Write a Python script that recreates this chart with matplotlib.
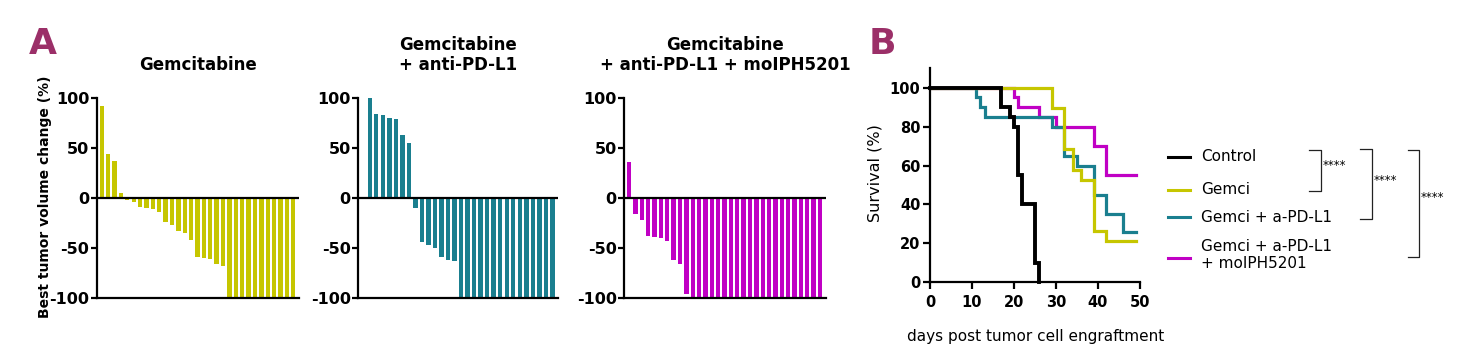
import matplotlib
matplotlib.use("Agg")
import matplotlib.pyplot as plt
from matplotlib.lines import Line2D
import numpy as np

# ---------------- data ----------------
gem_vals = [92, 44, 37, 5, -2, -4, -9, -10, -11, -14, -24, -27, -33, -35, -42, -59,
            -60, -61, -66, -68] + [-100] * 11
gem_pd_vals = [1, 100, 84, 83, 80, 79, 63, 55, -10, -44, -47, -50, -59, -62, -63] + [-100] * 15
gem_pd_mo_vals = [36, -16, -22, -38, -39, -40, -43, -62, -66, -96] + [-100] * 21

panel_titles = ["Gemcitabine", "Gemcitabine\n+ anti-PD-L1", "Gemcitabine\n+ anti-PD-L1 + moIPH5201"]
wf_yticks = [-100, -50, 0, 50, 100]

ctrl_t = [0, 17, 19, 20, 21, 22, 25, 26]
ctrl_s = [100, 90, 85, 80, 55, 40, 10, 0]
gemci_t = [0, 29, 32, 34, 36, 39, 42, 49]
gemci_s = [100, 89.5, 68.4, 57.9, 52.6, 26.3, 21.1, 21.1]
gpd_t = [0, 11, 12, 13, 29, 32, 35, 39, 42, 46, 49]
gpd_s = [100, 95, 90, 85, 80, 65, 60, 45, 35, 26, 26]
gpdmo_t = [0, 20, 21, 26, 30, 39, 42, 49]
gpdmo_s = [100, 95, 90, 85, 80, 70, 55, 55]

legend_labels = ["Control", "Gemci", "Gemci + a-PD-L1", "Gemci + a-PD-L1\n+ moIPH5201"]
sig_labels = ["****", "****", "****"]

# ---------------- style ----------------
YEL = "#c6c600"
TEAL = "#1a7f8f"
MAG = "#c000c4"
LETTER = "#9b2f68"
FONT = "DejaVu Sans"
plt.rcParams["font.family"] = [FONT]

W, H = 1469, 362
fig = plt.figure(figsize=(W / 100, H / 100), dpi=100)


def fx(x):
    return x / W


def fy(y):
    return 1 - y / H


def add_axes_px(x0, x1, ytop, ybot):
    return fig.add_axes([fx(x0), fy(ybot), fx(x1) - fx(x0), (ybot - ytop) / H])


# ---------------- waterfall panels ----------------
wf_specs = [
    (gem_vals, YEL, 97, 299),
    (gem_pd_vals, TEAL, 358.3, 558.3),
    (gem_pd_mo_vals, MAG, 624.3, 825.7),
]
for i, (vals, col, x0, x1) in enumerate(wf_specs):
    ax = add_axes_px(x0, x1, 97.7, 297.7)
    n = len(vals)
    ax.bar(np.arange(n), vals, width=0.68, color=col, zorder=1)
    ax.axhline(0, color="black", lw=1.6, zorder=3)
    ax.set_xlim(-0.75, n - 0.1)
    ax.set_ylim(-100, 100)
    for s in ["top", "right"]:
        ax.spines[s].set_visible(False)
    for s in ["left", "bottom"]:
        ax.spines[s].set_linewidth(1.6)
        ax.spines[s].set_zorder(4)
    ax.set_xticks([])
    ax.set_yticks(wf_yticks)
    ax.set_yticklabels([str(v) for v in wf_yticks], fontsize=11.5, fontweight="bold")
    ax.tick_params(axis="y", length=4.5, width=1.6, pad=1.0)
    ax.patch.set_alpha(0)
    cx = (x0 + x1) / 2
    if i == 0:
        fig.text(fx(cx), fy(65), panel_titles[i], ha="center", va="center",
                 fontsize=12, fontweight="bold")
    else:
        fig.text(fx(cx), fy(55), panel_titles[i], ha="center", va="center",
                 fontsize=12, fontweight="bold", linespacing=1.15, multialignment="center")

fig.text(fx(45), fy(197), "Best tumor volume change (%)", rotation=90, ha="center",
         va="center", fontsize=10, fontweight="bold")

# panel letters
fig.text(fx(43), fy(44), "A", ha="center", va="center", fontsize=26,
         fontweight="bold", color=LETTER)
fig.text(fx(882), fy(44), "B", ha="center", va="center", fontsize=26,
         fontweight="bold", color=LETTER)

# ---------------- survival ----------------
axs = add_axes_px(930, 1140, 68.3, 282.3)
curves = [
    (gpdmo_t, gpdmo_s, MAG, 2.3),
    (gpd_t, gpd_s, TEAL, 2.3),
    (gemci_t, gemci_s, YEL, 2.3),
    (ctrl_t, ctrl_s, "black", 2.8),
]
for t, s, col, lw in curves:
    axs.step(t, s, where="post", color=col, lw=lw, clip_on=False,
             solid_joinstyle="miter")
axs.set_xlim(0, 50)
axs.set_ylim(0, 110)
for s in ["top", "right"]:
    axs.spines[s].set_visible(False)
for s in ["left", "bottom"]:
    axs.spines[s].set_linewidth(1.6)
axs.set_xticks([0, 10, 20, 30, 40, 50])
axs.set_yticks([0, 20, 40, 60, 80, 100])
axs.set_xticklabels(["0", "10", "20", "30", "40", "50"], fontsize=10.5, fontweight="bold")
axs.set_yticklabels(["0", "20", "40", "60", "80", "100"], fontsize=10.5, fontweight="bold")
axs.tick_params(axis="x", length=5, width=1.6, pad=4)
axs.tick_params(axis="y", length=5, width=1.6, pad=2)
axs.patch.set_alpha(0)
fig.text(fx(875), fy(173), "Survival (%)", rotation=90, ha="center", va="center",
         fontsize=11.5)
fig.text(fx(1036), fy(336), "days post tumor cell engraftment", ha="center",
         va="center", fontsize=11)

# legend (manual)
leg_cols = ["black", YEL, TEAL, MAG]
line_y = [157, 190, 217, 258]
text_y = [157, 189, 217, 255]
for lab, col, ly, ty in zip(legend_labels, leg_cols, line_y, text_y):
    fig.add_artist(Line2D([fx(1168), fx(1190)], [fy(ly), fy(ly)], color=col, lw=2.2))
    fig.text(fx(1201), fy(ty), lab, ha="left", va="center", fontsize=11,
             linespacing=1.15)

# significance brackets
brackets = [(1309, 1320.7, 150, 191, 165), (1360, 1371.7, 149.3, 219.3, 180),
            (1408, 1419, 150, 256.7, 197)]
for (xa, xb, yt, yb, ys), lab in zip(brackets, sig_labels):
    fig.add_artist(Line2D([fx(xa), fx(xb), fx(xb), fx(xa)],
                          [fy(yt), fy(yt), fy(yb), fy(yb)], color="#222222", lw=0.9))
    fig.text(fx(xb + 2), fy(ys), lab, ha="left", va="center", fontsize=8.5)

fig.savefig("out.png", dpi=100)
